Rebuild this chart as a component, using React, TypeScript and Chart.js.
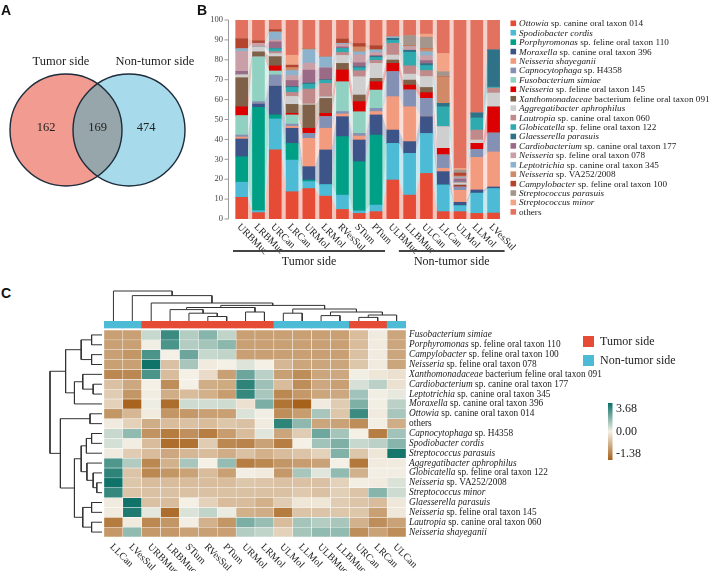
import React, { useEffect, useRef } from 'react';
import { Chart, registerables } from 'chart.js';

Chart.register(...registerables);

const SERIF = '"Liberation Serif", "Times New Roman", Times, serif';
const SANS = '"Liberation Sans", Arial, Helvetica, sans-serif';
const INK = '#222222';

// ---------------- Panel A : Venn ----------------
const vennSetNames = ['Tumor side', 'Non-tumor side'];
const vennOnlyTumor = 162;
const vennShared = 169;
const vennOnlyNonTumor = 474;

// ---------------- Panel B : stacked bars ----------------
const barSamples = ['URBMuc', 'LRBMuc', 'URCan', 'LRCan', 'URMol', 'LRMol', 'RVesSul', 'STum', 'PTum',
  'ULBMuc', 'LLBMuc', 'ULCan', 'LLCan', 'ULMol', 'LLMol', 'LVesSul'];
const barGroups = ['Tumor side', 'Non-tumor side'];
const barGroupFirst = [0, 9];
const barGroupLast = [8, 15];
const yTicks = [0, 10, 20, 30, 40, 50, 60, 70, 80, 90, 100];

const speciesItalic = ['Ottowia', 'Spodiobacter cordis', 'Porphyromonas', 'Moraxella', 'Neisseria shayeganii',
  'Capnocytophaga', 'Fusobacterium simiae', 'Neisseria', 'Xanthomonadaceae', 'Aggregatibacter aphrophilus',
  'Lautropia', 'Globicatella', 'Glaesserella parasuis', 'Cardiobacterium', 'Neisseria', 'Leptotrichia',
  'Neisseria', 'Campylobacter', 'Streptococcus parasuis', 'Streptococcus minor', ''];
const speciesRest = [' sp. canine oral taxon 014', '', ' sp. feline oral taxon 110', ' sp. canine oral taxon 396', '',
  ' sp. H4358', '', ' sp. feline oral taxon 145', ' bacterium feline oral taxon 091', '',
  ' sp. canine oral taxon 060', ' sp. feline oral taxon 122', '', ' sp. canine oral taxon 177', ' sp. feline oral taxon 078',
  ' sp. canine oral taxon 345', ' sp. VA252/2008', ' sp. feline oral taxon 100', '', '', 'others'];
const speciesColors = ['#e64b35', '#4dbbd5', '#00a087', '#3c5488', '#f39b7f', '#8491b4', '#91d1c2', '#dc0000',
  '#7e6148', '#cfcfcf', '#c18a8a', '#2fabb0', '#2f7287', '#9b6a86', '#c9a0a8', '#8db3cc', '#d18a68', '#b5442e',
  '#a4968c', '#f3a487', '#e2725f'];

const abOttowia = [10.9, 3.2, 34.7, 13.7, 15.3, 11.5, 4.8, 2.8, 3.7, 19.6, 12, 22.9, 3.7, 3.7, 2.8, 3];
const abSpodiobacter = [7.6, 1, 15.6, 15.9, 3.5, 5.8, 7.2, 1.3, 3.3, 18.4, 21, 20.1, 13.4, 3, 10.2, 12.3];
const abPorphyromonas = [12.8, 51.9, 2, 8.4, 0.8, 0, 29.4, 24.7, 35.2, 0, 0, 0, 0, 0, 0, 0];
const abMoraxella = [8.9, 1.7, 14.5, 7.6, 6.7, 17.4, 10, 10.9, 10.1, 6.7, 5.9, 8.4, 6.7, 1.7, 1.6, 0.8];
const abNShayeganii = [1, 0, 0, 1, 14.2, 10.9, 1.4, 2, 1.7, 16.8, 17.5, 0, 1.7, 6, 16.4, 17.6];
const abCapnocytophaga = [1, 1.2, 5.6, 1.1, 2.5, 5.8, 1.2, 1.3, 1.6, 12.5, 8.4, 9.2, 6.7, 1.7, 4, 9.5];
const abFusobacterium = [9.8, 22.6, 2, 4.6, 0, 0, 15, 10.9, 9.2, 0, 0, 0, 0, 0, 0, 0];
const abN145 = [4.4, 0, 2.5, 0.8, 2.6, 1.7, 5.9, 5.1, 4.2, 4.2, 2.5, 2.9, 3.3, 0.5, 3, 13.1];
const abXanthomonadaceae = [14.6, 2.4, 4.7, 4.5, 11.7, 7.5, 3.3, 3.3, 1.7, 1.7, 2.5, 2.6, 0, 0.5, 0, 0];
const abAggregatibacter = [1.4, 2.5, 1.5, 4, 0.5, 0.8, 4, 9.2, 7.5, 2.5, 3, 5.5, 10.9, 1, 1.7, 7];
const abLautropia = [0.4, 0, 1, 2, 7.5, 6.7, 1.5, 3, 1.5, 5.9, 4.2, 3, 0, 0.5, 5, 2.5];
const abGlobicatella = [0, 0, 1.5, 2.5, 2.5, 1.6, 2, 1.5, 1.5, 1.5, 6.8, 2.5, 10, 0, 6.1, 0.5];
const abGlaesserella = [0, 0, 0, 0.5, 0.5, 0.3, 0, 0.5, 0.5, 1, 1, 1, 1.7, 0, 2.5, 18.7];
const abCardiobacterium = [1.4, 0, 3.4, 3, 6.5, 5.9, 0.8, 2, 0.5, 0, 0, 1.5, 0, 1.5, 0, 0];
const abN078 = [10, 1.8, 1, 2.5, 3.5, 0, 1.3, 4, 1.5, 0, 1.8, 2.5, 0, 0.5, 0, 0];
const abLeptotrichia = [1.4, 0, 4, 2.5, 6.8, 5.5, 0.5, 1.5, 1.3, 0.8, 0, 2, 0, 0.5, 0, 0];
const abVA252 = [0, 0, 0, 1.5, 0.5, 0, 0, 2.5, 0, 0, 0.5, 1.5, 13.4, 0.5, 0, 0];
const abCampylobacter = [5, 1.3, 1.2, 1.2, 0, 0, 2.2, 1.7, 2.1, 0, 0, 0, 0, 1.5, 0, 0];
const abSParasuis = [0, 0, 0, 0, 0, 0, 0, 0, 0, 0, 5.1, 5.8, 2.5, 1.5, 0, 0];
const abSMinor = [0, 0, 0, 5, 0, 0, 0, 0, 0, 0, 0, 1.5, 9.2, 0.8, 0, 0];
const abOthers = [9.4, 10.4, 4.8, 17.7, 14.4, 18.6, 9.5, 11.8, 12.9, 8.4, 7.8, 7.1, 16.8, 74.6, 46.7, 15];

const abundance = [abOttowia, abSpodiobacter, abPorphyromonas, abMoraxella, abNShayeganii, abCapnocytophaga,
  abFusobacterium, abN145, abXanthomonadaceae, abAggregatibacter, abLautropia, abGlobicatella, abGlaesserella,
  abCardiobacterium, abN078, abLeptotrichia, abVA252, abCampylobacter, abSParasuis, abSMinor, abOthers];

// ---------------- Panel C : heatmap ----------------
const heatCols = ['LLCan', 'LVesSul', 'URBMuc', 'LRBMuc', 'STum', 'RVesSul', 'PTum', 'URMol', 'LRMol',
  'ULMol', 'LLMol', 'ULBMuc', 'LLBMuc', 'URCan', 'LRCan', 'ULCan'];
const heatColSide = [1, 1, 0, 0, 0, 0, 0, 0, 0, 1, 1, 1, 1, 0, 0, 1];
const sideNames = ['Tumor side', 'Non-tumor side'];
const sideColors = ['#e64b35', '#4dbbd5'];

const heatRowItalic = ['Fusobacterium simiae', 'Porphyromonas', 'Campylobacter', 'Neisseria', 'Xanthomonadaceae',
  'Cardiobacterium', 'Leptotrichia', 'Moraxella', 'Ottowia', '', 'Capnocytophaga', 'Spodiobacter cordis',
  'Streptococcus parasuis', 'Aggregatibacter aphrophilus', 'Globicatella', 'Neisseria', 'Streptococcus minor',
  'Glaesserella parasuis', 'Neisseria', 'Lautropia', 'Neisseria shayeganii'];
const heatRowRest = ['', ' sp. feline oral taxon 110', ' sp. feline oral taxon 100', ' sp. feline oral taxon 078',
  ' bacterium feline oral taxon 091', ' sp. canine oral taxon 177', ' sp. canine oral taxon 345',
  ' sp. canine oral taxon 396', ' sp. canine oral taxon 014', 'others', ' sp. H4358', '', '', '',
  ' sp. feline oral taxon 122', ' sp. VA252/2008', '', '', ' sp. feline oral taxon 145', ' sp. canine oral taxon 060', ''];

const heatValues = [
  [-0.77, -0.77, 0.7, 2.9, 1.0, 1.7, 0.8, -0.77, -0.77, -0.77, -0.77, -0.77, -0.77, -0.5, -0.05, -0.72],
  [-0.77, -0.77, 0.05, 2.65, 1.0, 1.25, 1.65, -0.77, -0.77, -0.77, -0.77, -0.77, -0.77, -0.5, -0.05, -0.72],
  [-0.77, -0.87, 2.65, 0.0, 2.15, 0.7, 0.8, -0.77, -0.77, -0.77, -0.77, -0.77, -0.77, -0.45, -0.05, -0.72],
  [-0.77, -0.77, 3.6, -0.45, 1.2, -0.05, 0.0, 0.35, 0.0, -0.55, -0.72, -0.72, -0.72, -0.4, -0.05, -0.72],
  [-1.0, -1.0, 2.65, -0.5, 0.0, -0.2, -0.77, 2.15, 0.9, -0.77, -0.95, -0.72, -0.7, 0.05, -0.1, -0.15],
  [-0.45, -0.7, 0.0, -0.95, 0.0, -0.65, -0.68, 3.1, 1.35, -0.5, -0.95, -0.7, -0.77, 0.45, 0.9, -0.15],
  [-0.35, -0.87, -0.03, -0.65, -0.5, -0.62, -0.8, 3.0, 1.2, -1.0, -0.85, -0.72, -0.7, 1.3, 0.05, 0.2],
  [-0.3, -1.35, 0.1, -1.26, 0.6, 0.55, 0.6, -0.15, 1.9, -1.2, -1.38, -0.05, -0.35, 1.85, 0.05, 0.9],
  [-0.87, -0.55, -0.05, -0.87, -0.85, -0.77, -0.77, 0.4, 0.05, -0.95, -0.8, 1.2, -0.4, 2.9, -0.05, 1.2],
  [-0.05, -0.3, -0.65, -0.5, -0.45, -0.5, -0.4, -0.45, -0.05, 3.1, 1.6, -0.72, -0.75, -0.95, -0.02, -0.65],
  [0.7, 1.55, -0.9, -1.12, -0.93, -1.1, -0.8, -0.5, 0.3, -0.72, -0.35, 2.1, 1.25, 0.0, -1.1, 1.3],
  [0.5, -0.03, -0.5, -1.26, -1.22, -0.35, -1.0, -1.05, -0.75, -1.1, 0.0, 1.3, 1.85, 0.7, 0.9, 1.7],
  [-0.05, -0.35, -0.5, -0.7, -0.55, -0.5, -0.65, -0.45, -0.62, -0.5, -0.42, -0.3, 1.8, -0.4, -0.1, 3.5],
  [2.6, 1.05, -1.0, -0.6, 1.2, 0.0, 1.5, -1.1, -1.0, -0.87, -0.8, -0.75, 0.0, -1.15, -0.05, -0.05],
  [3.1, -0.42, -1.0, -0.87, -0.75, -0.5, -0.77, -0.02, -0.05, -0.85, 1.2, 0.3, 1.55, -0.6, -0.02, -0.03],
  [3.6, -0.4, -0.5, -0.5, -0.5, -0.5, -0.5, -0.4, -0.42, -0.45, -0.45, -0.45, -0.3, -0.02, -0.05, 0.4],
  [3.0, -0.42, -0.45, -0.45, -0.45, -0.45, -0.45, -0.45, -0.45, -0.45, -0.38, -0.45, -0.32, -0.42, 1.7, 0.6],
  [-0.05, 3.6, -0.45, -0.5, 0.0, -0.3, -0.5, -0.5, -0.62, -0.35, -0.1, -0.1, -0.35, -0.42, -0.5, -0.08],
  [-0.05, 3.35, 0.25, -1.26, 0.4, 0.8, 0.15, -0.62, -0.65, -1.12, -0.42, -0.42, -0.4, -0.4, -0.77, -0.08],
  [-1.12, -0.05, -1.0, -0.87, -0.02, -0.6, -0.87, 1.9, 1.45, -0.5, 1.25, 1.0, 1.2, -0.6, -0.95, -0.75],
  [-0.85, 1.55, -0.85, -0.85, -0.75, -0.77, -0.77, 1.0, 0.8, -0.3, 1.25, 1.55, 1.55, -0.95, -0.75, -0.95],
];
const heatMin = -1.38;
const heatMax = 3.68;
const heatLegendTicks = [3.68, 0.0, -1.38];

// dendrogram merges: [child a, child b, height]; children < n are leaves, else earlier merges (n + k)
const colMerges = [
  [5, 6, 0.15], [4, 16, 0.26], [3, 17, 0.38], [7, 8, 0.3], [18, 19, 0.45],
  [9, 10, 0.26], [11, 12, 0.18], [13, 14, 0.12], [23, 15, 0.2], [22, 24, 0.3],
  [21, 25, 0.4], [20, 26, 0.52], [2, 27, 0.6], [1, 28, 0.846], [0, 29, 1.0],
];
const rowMerges = [
  [0, 1, 0.2], [2, 3, 0.2], [21, 22, 0.4], [5, 6, 0.17], [4, 24, 0.37], [25, 7, 0.53], [23, 26, 0.7],
  [8, 9, 0.23], [10, 11, 0.2], [29, 12, 0.3], [15, 16, 0.1], [14, 31, 0.17], [13, 32, 0.29], [30, 33, 0.4],
  [17, 18, 0.2], [19, 20, 0.2], [35, 36, 0.37], [34, 37, 0.53], [28, 38, 0.8], [27, 39, 1.0],
];

// ---------------- helpers ----------------
function hexA(hex: string, a: number) {
  const n = parseInt(hex.slice(1), 16);
  return `rgba(${n >> 16},${(n >> 8) & 255},${n & 255},${a})`;
}
const CREAM = [244, 240, 230];
const BROWN = [166, 97, 26];
const TEAL = [10, 112, 102];
function heatColor(v: number) {
  let t: number, c: number[];
  if (v < 0) { t = Math.min(1, v / heatMin); c = BROWN; } else { t = Math.min(1, v / heatMax); c = TEAL; }
  const r = CREAM.map((x, i) => Math.round(x + (c[i] - x) * t));
  return `rgb(${r[0]},${r[1]},${r[2]})`;
}
function drawTaxon(ctx: CanvasRenderingContext2D, x: number, y: number, it: string, rest: string, size: number) {
  ctx.textAlign = 'left';
  ctx.textBaseline = 'middle';
  let cx = x;
  if (it) {
    ctx.font = `italic ${size}px ${SERIF}`;
    ctx.fillText(it, cx, y);
    cx += ctx.measureText(it).width;
  }
  if (rest) {
    ctx.font = `${size}px ${SERIF}`;
    ctx.fillText(rest, cx, y);
  }
}
function dendroSegments(nLeaves: number, merges: number[][]) {
  const pos: number[] = [];
  const hgt: number[] = [];
  for (let i = 0; i < nLeaves; i++) { pos.push(i); hgt.push(0); }
  const segs: { p: number; h: number }[][] = [];
  merges.forEach(([a, b, h]) => {
    segs.push([{ p: pos[a], h: hgt[a] }, { p: pos[a], h }, { p: pos[b], h }, { p: pos[b], h: hgt[b] }]);
    pos.push((pos[a] + pos[b]) / 2);
    hgt.push(h);
  });
  return segs;
}
const baseOpts = (padding: any) => ({
  animation: false,
  responsive: false,
  events: [],
  layout: { padding, autoPadding: false },
  plugins: { legend: { display: false }, tooltip: { enabled: false }, title: { display: false } },
});

// ---------------- chart configs ----------------
const vennRadius = 56;
function vennConfig(): any {
  const vennPlugin = {
    id: 'venn',
    afterDatasetsDraw(chart: any) {
      const ctx = chart.ctx;
      const xs = chart.scales.x, ys = chart.scales.y;
      const pa = chart.data.datasets[0].data[0];
      const pb = chart.data.datasets[1].data[0];
      const ax = xs.getPixelForValue(pa.x), ay = ys.getPixelForValue(pa.y);
      const bx = xs.getPixelForValue(pb.x), by = ys.getPixelForValue(pb.y);
      const r = xs.getPixelForValue(pa.x + vennRadius) - ax;
      ctx.save();
      ctx.fillStyle = '#f29b90';
      ctx.beginPath(); ctx.arc(ax, ay, r, 0, Math.PI * 2); ctx.fill();
      ctx.fillStyle = '#a7dbeb';
      ctx.beginPath(); ctx.arc(bx, by, r, 0, Math.PI * 2); ctx.fill();
      ctx.save();
      ctx.beginPath(); ctx.arc(ax, ay, r, 0, Math.PI * 2); ctx.clip();
      ctx.fillStyle = '#97a6aa';
      ctx.beginPath(); ctx.arc(bx, by, r, 0, Math.PI * 2); ctx.fill();
      ctx.restore();
      ctx.strokeStyle = '#1d2b3a'; ctx.lineWidth = 1.4;
      ctx.beginPath(); ctx.arc(ax, ay, r, 0, Math.PI * 2); ctx.stroke();
      ctx.beginPath(); ctx.arc(bx, by, r, 0, Math.PI * 2); ctx.stroke();
      ctx.fillStyle = INK; ctx.textAlign = 'center'; ctx.textBaseline = 'middle';
      ctx.font = `12.5px ${SERIF}`;
      ctx.fillText(vennSetNames[0], ax - 5, ay - 68);
      ctx.fillText(vennSetNames[1], bx + 26, by - 68);
      ctx.fillText(String(vennOnlyTumor), ax - 20, ay - 2);
      ctx.fillText(String(vennShared), (ax + bx) / 2, ay - 2);
      ctx.fillText(String(vennOnlyNonTumor), bx + 17, by - 2);
      ctx.restore();
    },
  };
  return {
    type: 'scatter',
    data: {
      datasets: [
        { label: vennSetNames[0], data: [{ x: 66, y: 130 }], pointRadius: 0 },
        { label: vennSetNames[1], data: [{ x: 129, y: 130 }], pointRadius: 0 },
      ],
    },
    options: {
      ...baseOpts(0),
      scales: {
        x: { type: 'linear', min: 0, max: 200, display: false },
        y: { type: 'linear', min: 0, max: 200, reverse: true, display: false },
      },
    },
    plugins: [vennPlugin],
  };
}

function barConfig(): any {
  const half = 0.357;
  const bars = abundance.map((vals, k) => ({
    type: 'bar', stack: 'bars', order: 0,
    data: vals.map((v, i) => ({ x: i, y: v })),
    backgroundColor: speciesColors[k], borderWidth: 0, barThickness: 12,
  }));
  const flows = abundance.map((vals, k) => ({
    type: 'line', stack: 'flow', order: 1,
    data: vals.flatMap((v, i) => [{ x: i - half, y: v }, { x: i + half, y: v }]),
    borderWidth: 0, pointRadius: 0, tension: 0,
    fill: k === 0 ? 'origin' : '-1',
    backgroundColor: hexA(speciesColors[k], 0.33),
  }));
  const decor = {
    id: 'barDecor',
    afterDraw(chart: any) {
      const ctx = chart.ctx;
      const xs = chart.scales.x, ys = chart.scales.y;
      const area = chart.chartArea;
      ctx.save();
      // y axis
      ctx.strokeStyle = '#9a9a9a'; ctx.lineWidth = 1;
      ctx.beginPath();
      ctx.moveTo(area.left + 0.5, ys.getPixelForValue(0));
      ctx.lineTo(area.left + 0.5, ys.getPixelForValue(100));
      ctx.stroke();
      ctx.fillStyle = '#444';
      ctx.font = `8.5px ${SERIF}`; ctx.textAlign = 'right'; ctx.textBaseline = 'middle';
      yTicks.forEach((t) => {
        const y = ys.getPixelForValue(t);
        ctx.beginPath(); ctx.moveTo(area.left - 3.5, y); ctx.lineTo(area.left + 0.5, y); ctx.stroke();
        ctx.fillText(String(t), area.left - 5, y);
      });
      // sample labels
      ctx.fillStyle = INK;
      ctx.font = `10px ${SERIF}`;
      barSamples.forEach((s, i) => {
        const px = xs.getPixelForValue(i);
        ctx.save();
        ctx.translate(px - 3, area.bottom + 6.5);
        ctx.rotate(Math.PI / 4);
        ctx.textAlign = 'left'; ctx.textBaseline = 'middle';
        ctx.fillText(s, 0, 0);
        ctx.restore();
      });
      const startOff = [-8.7, 6];
      const endOff = [9, 11];
      barGroups.forEach((g, j) => {
        const x0 = xs.getPixelForValue(barGroupFirst[j]) + startOff[j];
        const x1 = xs.getPixelForValue(barGroupLast[j]) + endOff[j];
        ctx.strokeStyle = '#444'; ctx.lineWidth = 1.8;
        ctx.beginPath(); ctx.moveTo(x0, 251); ctx.lineTo(x1, 251); ctx.stroke();
        ctx.font = `12px ${SERIF}`; ctx.textAlign = 'center'; ctx.textBaseline = 'middle';
        ctx.fillText(g, (x0 + x1) / 2, 262);
      });
      // legend
      speciesColors.forEach((c, k) => {
        const y = 23.3 + k * 9.43;
        ctx.fillStyle = c;
        ctx.fillRect(315.5, y - 2.8, 5.6, 5.6);
        ctx.fillStyle = INK;
        drawTaxon(ctx, 324, y + 0.5, speciesItalic[k], speciesRest[k], 9.2);
      });
      ctx.restore();
    },
  };
  return {
    type: 'bar',
    data: { datasets: [...bars, ...flows] },
    options: {
      ...baseOpts({ left: 33, top: 20, right: 212, bottom: 61 }),
      scales: {
        x: { type: 'linear', min: -0.815, max: 15.5, display: false, offset: false },
        y: { stacked: true, min: 0, max: 100, display: false },
      },
    },
    plugins: [decor],
  };
}

const annTop = -0.913;
const annBottom = -0.203;

function heatConfig(): any {
  const rows = heatValues.map((row, r) => ({
    data: heatCols.map(() => [r, r + 1]),
    backgroundColor: row.map(heatColor),
    borderColor: 'rgba(255,255,255,0.9)', borderWidth: 0.5, borderSkipped: false,
    grouped: false, barPercentage: 1, categoryPercentage: 1,
  }));
  const ann = {
    data: heatCols.map(() => [annTop, annBottom]),
    backgroundColor: heatColSide.map((s) => sideColors[s]),
    borderWidth: 0, grouped: false, barPercentage: 1, categoryPercentage: 1,
  };
  const decor = {
    id: 'heatDecor',
    afterDraw(chart: any) {
      const ctx = chart.ctx;
      const xs = chart.scales.x, ys = chart.scales.y;
      const area = chart.chartArea;
      ctx.save();
      ctx.fillStyle = INK;
      heatRowItalic.forEach((it, r) => {
        drawTaxon(ctx, area.right + 3, ys.getPixelForValue(r + 0.5), it, heatRowRest[r], 9.3);
      });
      ctx.font = `10px ${SERIF}`;
      heatCols.forEach((c, i) => {
        const px = xs.getPixelForValue(i);
        ctx.save();
        ctx.translate(px - 2, area.bottom + 8.5);
        ctx.rotate(Math.PI / 4);
        ctx.textAlign = 'left'; ctx.textBaseline = 'middle';
        ctx.fillText(c, 0, 0);
        ctx.restore();
      });
      // side legend
      sideNames.forEach((n, j) => {
        const y = 36 + j * 19;
        ctx.fillStyle = sideColors[j];
        ctx.fillRect(483, y, 11, 11);
        ctx.fillStyle = INK;
        ctx.font = `12px ${SERIF}`; ctx.textAlign = 'left'; ctx.textBaseline = 'middle';
        ctx.fillText(n, 500, y + 6);
      });
      // colour bar
      const top = 103, bot = 160;
      const g = ctx.createLinearGradient(0, top, 0, bot);
      g.addColorStop(0, heatColor(heatMax));
      g.addColorStop(0.5, heatColor(0));
      g.addColorStop(1, heatColor(heatMin));
      ctx.fillStyle = g;
      ctx.fillRect(508, top, 4.5, bot - top);
      ctx.fillStyle = INK;
      ctx.font = `12px ${SERIF}`; ctx.textAlign = 'left'; ctx.textBaseline = 'middle';
      const ly = [109, 131.5, 154];
      heatLegendTicks.forEach((t, i) => ctx.fillText(t.toFixed(2), 516, ly[i]));
      ctx.restore();
    },
  };
  return {
    type: 'bar',
    data: { labels: heatCols, datasets: [...rows, ann] },
    options: {
      ...baseOpts({ left: 4, top: 21, right: 308, bottom: 34 }),
      scales: {
        x: { display: false, offset: true },
        y: { type: 'linear', min: annTop, max: heatValues.length, reverse: true, display: false },
      },
    },
    plugins: [decor],
  };
}

function topDendroConfig(): any {
  const segs = dendroSegments(heatCols.length, colMerges);
  const data = segs.flatMap((s) => [...s.map((q) => ({ x: q.p, y: q.h })), { x: 0, y: null }]);
  return {
    type: 'line',
    data: { datasets: [{ data, borderColor: '#333', borderWidth: 1, pointRadius: 0, tension: 0, spanGaps: false, fill: false, clip: false }] },
    options: {
      ...baseOpts({ left: 4, right: 4, top: 4, bottom: 0 }),
      scales: {
        x: { type: 'linear', min: -0.5, max: heatCols.length - 0.5, display: false },
        y: { type: 'linear', min: 0, max: 1, display: false },
      },
    },
  };
}

function leftDendroConfig(): any {
  const segs = dendroSegments(heatRowItalic.length, rowMerges);
  const data = segs.flatMap((s) => [...s.map((q) => ({ x: q.h, y: q.p })), { x: 0, y: null }]);
  return {
    type: 'line',
    data: { datasets: [{ data, borderColor: '#333', borderWidth: 1, pointRadius: 0, tension: 0, spanGaps: false, fill: false, clip: false }] },
    options: {
      ...baseOpts({ left: 4, right: 4, top: 4, bottom: 4 }),
      scales: {
        x: { type: 'linear', min: 0, max: 1, reverse: true, display: false },
        y: { type: 'linear', min: -0.5, max: heatRowItalic.length - 0.5, reverse: true, display: false },
      },
    },
  };
}

// ---------------- components ----------------
function ChartBox(props: { left: number; top: number; width: number; height: number; make: () => any }) {
  const ref = useRef<HTMLCanvasElement | null>(null);
  useEffect(() => {
    const chart = new Chart(ref.current as HTMLCanvasElement, props.make());
    return () => chart.destroy();
  }, []);
  const { left, top, width, height } = props;
  return (
    <canvas ref={ref} width={width} height={height}
      style={{ position: 'absolute', left, top, width, height, display: 'block' }} />
  );
}

const letterStyle = (left: number, top: number): React.CSSProperties => ({
  position: 'absolute', left, top, font: `bold 14px ${SANS}`, color: '#111', lineHeight: '14px',
});

export default function App() {
  return (
    <div style={{ position: 'absolute', left: 0, top: 0, width: 714, height: 571, background: '#fff', overflow: 'hidden' }}>
      <ChartBox left={0} top={0} width={200} height={200} make={vennConfig} />
      <ChartBox left={195} top={0} width={519} height={280} make={barConfig} />
      <ChartBox left={100} top={287} width={310} height={34} make={topDendroConfig} />
      <ChartBox left={46} top={326} width={60} height={215} make={leftDendroConfig} />
      <ChartBox left={100} top={300} width={614} height={271} make={heatConfig} />
      <div style={letterStyle(1, 3)}>A</div>
      <div style={letterStyle(197, 3)}>B</div>
      <div style={letterStyle(1, 286)}>C</div>
    </div>
  );
}
